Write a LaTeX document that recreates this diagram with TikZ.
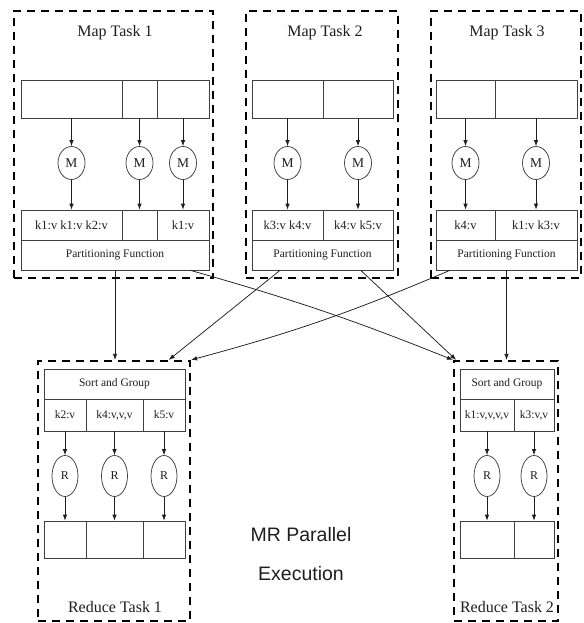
\documentclass[tikz,border=0pt]{standalone}
\usepackage{fontspec}
\setmainfont{Liberation Serif}
\newfontfamily\sansf{Liberation Sans}
\usetikzlibrary{shapes.geometric,arrows.meta,calc}
\definecolor{ink}{HTML}{1E1E1E}
\definecolor{edge}{HTML}{404040}
\begin{document}
\begin{tikzpicture}[x=1pt,y=-1pt,
  cell/.style={draw=edge, line width=0.75pt, inner sep=0pt, text=ink},
  taskbox/.style={draw=black, line width=2.2pt, dash pattern=on 8pt off 6pt, inner sep=0pt},
  mapper/.style={ellipse, draw=edge, line width=0.75pt, minimum width=27pt, minimum height=33pt, inner sep=0pt, text=ink, font=\fontsize{13.5}{15}\selectfont},
  reducer/.style={ellipse, draw=edge, line width=0.75pt, minimum width=26pt, minimum height=41pt, inner sep=0pt, text=ink, font=\fontsize{12}{14}\selectfont},
  flow/.style={draw=ink, line width=0.75pt, -{Latex[length=6pt,width=4.5pt]}},
  title/.style={text=ink, font=\fontsize{16}{18}\selectfont},
  mkey/.style={font=\fontsize{12.5}{14}\selectfont},
  rkey/.style={font=\fontsize{11.5}{13}\selectfont},
  small/.style={font=\fontsize{11.5}{13}\selectfont}
]
\useasboundingbox (0,0) rectangle (583,623);

% ---------- task boxes ----------
\node[taskbox, minimum width=199pt, minimum height=267pt] (t1) at (113.5,144.5) {};
\node[taskbox, minimum width=152pt, minimum height=267pt] (t2) at (322,144.5) {};
\node[taskbox, minimum width=150pt, minimum height=267pt] (t3) at (506,144.5) {};
\node[taskbox, minimum width=152pt, minimum height=260pt] (r1) at (114,491) {};
\node[taskbox, minimum width=104pt, minimum height=260pt] (r2) at (506,491) {};

% ---------- titles ----------
\node[title] (t1title) at (115,33) {Map Task 1};
\node[title] (t2title) at (325,33) {Map Task 2};
\node[title] (t3title) at (507,33) {Map Task 3};
\node[title] (r1title) at (115,607) {Reduce Task 1};
\node[title] (r2title) at (507,607) {Reduce Task 2};

% ---------- Map Task 1 ----------
\node[cell, minimum width=101pt, minimum height=38pt] (m1a1) at (71.5,99) {};
\node[cell, minimum width=35pt, minimum height=38pt] (m1a2) at (139.5,99) {};
\node[cell, minimum width=52pt, minimum height=38pt] (m1a3) at (183,99) {};
\node[cell, mkey, minimum width=101pt, minimum height=30pt] (m1k1) at (71.5,225) {k1:v k1:v k2:v};
\node[cell, mkey, minimum width=35pt, minimum height=30pt] (m1k2) at (139.5,225) {};
\node[cell, mkey, minimum width=52pt, minimum height=30pt] (m1k3) at (183,225) {k1:v};
\node[cell, small, minimum width=188pt, minimum height=30pt] (m1p) at (115,255) {Partitioning Function};
\node[mapper] (m1c1) at (m1a1 |- 0,163) {M};
\node[mapper] (m1c2) at (m1a2 |- 0,163) {M};
\node[mapper] (m1c3) at (m1a3 |- 0,163) {M};
\foreach \i in {1,2,3}{
  \draw[flow] (m1a\i.south) -- (m1c\i.north);
  \draw[flow] (m1c\i.south) -- (m1k\i.north);
}

% ---------- Map Task 2 ----------
\node[cell, minimum width=71pt, minimum height=38pt] (m2a1) at (287.5,99) {};
\node[cell, minimum width=70pt, minimum height=38pt] (m2a2) at (358,99) {};
\node[cell, mkey, minimum width=71pt, minimum height=30pt] (m2k1) at (287.5,225) {k3:v k4:v};
\node[cell, mkey, minimum width=70pt, minimum height=30pt] (m2k2) at (358,225) {k4:v k5:v};
\node[cell, small, minimum width=141pt, minimum height=30pt] (m2p) at (322.5,255) {Partitioning Function};
\node[mapper] (m2c1) at (m2a1 |- 0,163) {M};
\node[mapper] (m2c2) at (m2a2 |- 0,163) {M};
\foreach \i in {1,2}{
  \draw[flow] (m2a\i.south) -- (m2c\i.north);
  \draw[flow] (m2c\i.south) -- (m2k\i.north);
}

% ---------- Map Task 3 ----------
\node[cell, minimum width=59pt, minimum height=38pt] (m3a1) at (465.5,99) {};
\node[cell, minimum width=82pt, minimum height=38pt] (m3a2) at (536,99) {};
\node[cell, mkey, minimum width=59pt, minimum height=30pt] (m3k1) at (465.5,225) {k4:v};
\node[cell, mkey, minimum width=82pt, minimum height=30pt] (m3k2) at (536,225) {k1:v k3:v};
\node[cell, small, minimum width=141pt, minimum height=30pt] (m3p) at (506.5,255) {Partitioning Function};
\node[mapper] (m3c1) at (m3a1 |- 0,163) {M};
\node[mapper] (m3c2) at (m3a2 |- 0,163) {M};
\foreach \i in {1,2}{
  \draw[flow] (m3a\i.south) -- (m3c\i.north);
  \draw[flow] (m3c\i.south) -- (m3k\i.north);
}

% ---------- Reduce Task 1 ----------
\node[cell, small, minimum width=141pt, minimum height=30pt] (r1s) at (114.5,384) {Sort and Group};
\node[cell, rkey, minimum width=42pt, minimum height=32pt] (r1k1) at (65,415) {k2:v};
\node[cell, rkey, minimum width=57pt, minimum height=32pt] (r1k2) at (114.5,415) {k4:v,v,v};
\node[cell, rkey, minimum width=42pt, minimum height=32pt] (r1k3) at (164,415) {k5:v};
\node[cell, minimum width=42pt, minimum height=37pt] (r1o1) at (65,539.5) {};
\node[cell, minimum width=57pt, minimum height=37pt] (r1o2) at (114.5,539.5) {};
\node[cell, minimum width=42pt, minimum height=37pt] (r1o3) at (164,539.5) {};
\node[reducer] (r1c1) at (r1k1 |- 0,476) {R};
\node[reducer] (r1c2) at (r1k2 |- 0,476) {R};
\node[reducer] (r1c3) at (r1k3 |- 0,476) {R};
\foreach \i in {1,2,3}{
  \draw[flow] (r1k\i.south) -- (r1c\i.north);
  \draw[flow] (r1c\i.south) -- (r1o\i.north);
}

% ---------- Reduce Task 2 ----------
\node[cell, small, minimum width=94pt, minimum height=30pt] (r2s) at (507,384) {Sort and Group};
\node[cell, rkey, minimum width=54pt, minimum height=32pt] (r2k1) at (487,415) {k1:v,v,v,v};
\node[cell, rkey, minimum width=40pt, minimum height=32pt] (r2k2) at (534,415) {k3:v,v};
\node[cell, minimum width=54pt, minimum height=37pt] (r2o1) at (487,539.5) {};
\node[cell, minimum width=40pt, minimum height=37pt] (r2o2) at (534,539.5) {};
\node[reducer] (r2c1) at (r2k1 |- 0,476) {R};
\node[reducer] (r2c2) at (r2k2 |- 0,476) {R};
\foreach \i in {1,2}{
  \draw[flow] (r2k\i.south) -- (r2c\i.north);
  \draw[flow] (r2c\i.south) -- (r2o\i.north);
}

% ---------- shuffle connectors ----------
\draw[flow] (m1p.south) -- (m1p.south |- r1.north);
\draw[flow] ($(m2p.south west)!0.2!(m2p.south east)$) -- ($(r1.north west)!0.855!(r1.north east)$);
\draw[flow] ($(m3p.south west)!0.1!(m3p.south east)$) to[bend left=4] (r1.north east);
\draw[flow] ($(m1p.south west)!0.9!(m1p.south east)$) to[bend left=3] (r2.north west);
\draw[flow] ($(m2p.south west)!0.77!(m2p.south east)$) -- ($(r2.north west)!0.03!(r2.north east)$);
\draw[flow] (m3p.south) -- (m3p.south |- r2.north);

% ---------- caption ----------
\node[align=center, text=ink, font=\sansf\fontsize{19.5}{39}\selectfont] (mr) at (301,554) {MR Parallel\\Execution};
\end{tikzpicture}
\end{document}
